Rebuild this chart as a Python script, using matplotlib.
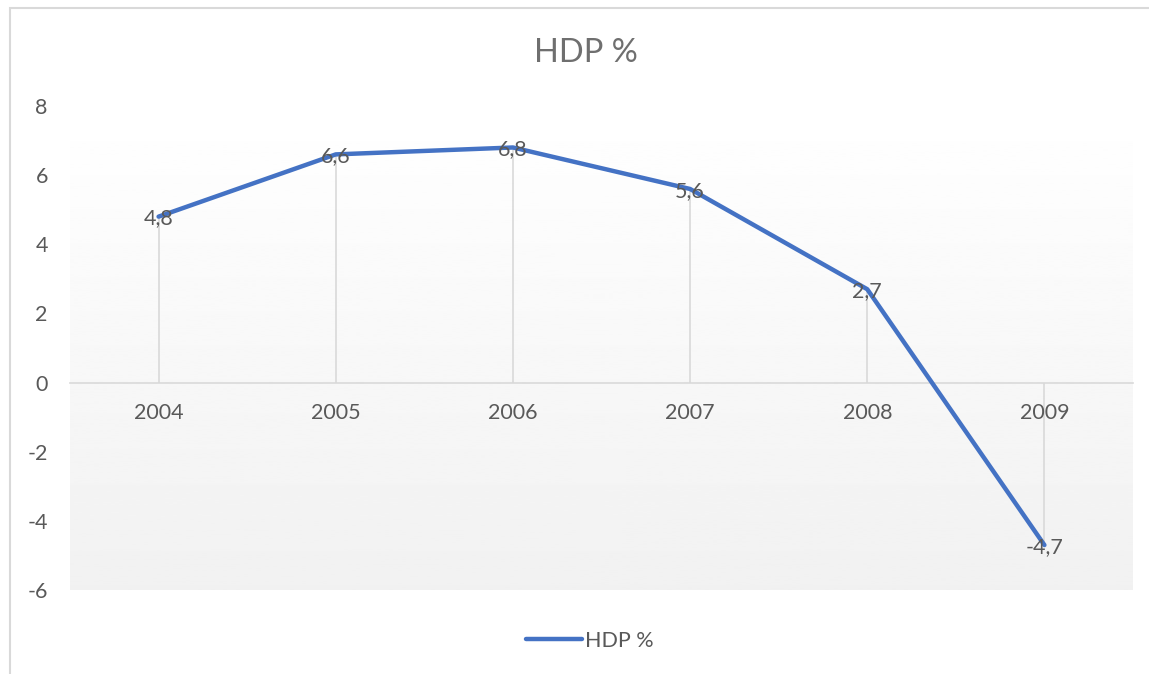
import numpy as np
import matplotlib.pyplot as plt
from matplotlib.patches import Rectangle

years = ["2004", "2005", "2006", "2007", "2008", "2009"]
hdp = [4.8, 6.6, 6.8, 5.6, 2.7, -4.7]
labels = ["4,8", "6,6", "6,8", "5,6", "2,7", "-4,7"]
yticks = [-6, -4, -2, 0, 2, 4, 6, 8]

plt.rcParams['font.family'] = ['Lato', 'DejaVu Sans']
txt = '#595959'
grid = '#d9d9d9'
blue = '#4472C4'

W, H = 1149, 674
fig = plt.figure(figsize=(W / 100, H / 100), dpi=100)
fig.patch.set_facecolor('white')

# chart border (cut off at right and bottom)
fig.patches.append(Rectangle((10 / W, -0.1), 1.2, 1 - 8 / H + 0.1, transform=fig.transFigure,
                             fill=False, edgecolor=grid, lw=1.5))

ax = fig.add_axes([70 / W, 1 - 590 / H, (1133 - 70) / W, (590 - 106) / H])
x = np.arange(len(years))

# gradient plot area
grad = np.linspace(1.0, 0.945, 256).reshape(-1, 1)
ax.imshow(grad, cmap='gray', vmin=0, vmax=1, aspect='auto', extent=(0, 1, 0, 1),
          transform=ax.transAxes, zorder=0)

ax.vlines(x, 0, hdp, color=grid, lw=1.2, zorder=1)
ax.plot(x, hdp, color=blue, lw=3.2, solid_capstyle='round', zorder=3, label='HDP %')
for xi, v, s in zip(x, hdp, labels):
    ax.text(xi, v - 0.05, s, ha='center', va='center', fontsize=15.5, color=txt, zorder=4)

ax.set_xlim(-0.5, len(years) - 0.5)
ax.set_ylim(-6, 8)
ax.set_xticks(x)
ax.set_xticklabels(years)
ax.set_yticks(yticks)
ax.set_yticklabels([str(t) for t in yticks])

for s in ['top', 'right', 'left']:
    ax.spines[s].set_visible(False)
ax.spines['bottom'].set_position(('data', 0))
ax.spines['bottom'].set_color(grid)
ax.spines['bottom'].set_linewidth(1.2)
ax.tick_params(axis='x', length=0, pad=15, labelsize=15.5, labelcolor=txt)
ax.tick_params(axis='y', length=0, pad=16, labelsize=15.5, labelcolor=txt)
ax.set_facecolor('white')

fig.text(586 / W, 1 - 53 / H, 'HDP %', ha='center', va='center', fontsize=23.5, color='#6f6f6f')

leg = fig.legend(loc='center', bbox_to_anchor=(590 / W, 1 - 641 / H), frameon=False,
                 fontsize=15.5, handlelength=2.6, handletextpad=0.15)
for t in leg.get_texts():
    t.set_color(txt)

fig.savefig('out.png', dpi=100)
